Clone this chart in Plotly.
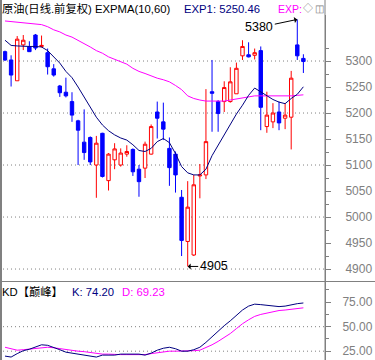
import plotly.graph_objects as go

# ---- data ----
opens  = [5318, 5302, 5262, 5331, 5327, 5350, 5328, 5316, 5285, 5252,
          5240, 5222, 5185, 5144, 5153, 5100, 5161, 5070, 5110, 5100,
          5121, 5130, 5092, 5094, 5121, 5202, 5183, 5132, 5121, 5038,
          4953, 4927, 5079, 5081, 5241, 5222, 5222, 5222, 5237, 5310,
          5312, 5311, 5320, 5174, 5183, 5202, 5190, 5192, 5331, 5305]
highs  = [5320, 5311, 5348, 5350, 5338, 5352, 5349, 5324, 5294, 5254,
          5268, 5240, 5187, 5207, 5155, 5156, 5162, 5123, 5142, 5132,
          5138, 5132, 5100, 5145, 5178, 5222, 5220, 5153, 5126, 5052,
          5069, 5081, 5102, 5246, 5302, 5225, 5261, 5288, 5297, 5340,
          5336, 5324, 5328, 5241, 5219, 5222, 5219, 5281, 5380, 5313]
lows   = [5300, 5251, 5262, 5321, 5318, 5321, 5326, 5274, 5270, 5231,
          5230, 5183, 5100, 5110, 5100, 5037, 5076, 5051, 5092, 5097,
          5116, 5079, 5039, 5075, 5120, 5151, 5148, 5060, 5047, 4925,
          4905, 4925, 5036, 5073, 5164, 5164, 5202, 5220, 5237, 5302,
          5307, 5303, 5167, 5162, 5171, 5167, 5169, 5130, 5302, 5277]
closes = [5302, 5273, 5342, 5340, 5318, 5325, 5330, 5289, 5273, 5239,
          5233, 5196, 5167, 5124, 5106, 5142, 5078, 5121, 5131, 5123,
          5126, 5087, 5068, 5140, 5174, 5190, 5169, 5095, 5081, 4955,
          5019, 5062, 5081, 5145, 5238, 5199, 5249, 5260, 5286, 5328,
          5308, 5316, 5211, 5196, 5200, 5181, 5196, 5267, 5310, 5299]

exp1 = [5340, 5330, 5329, 5328, 5328, 5328, 5327, 5320, 5308, 5296,
        5280, 5268, 5250, 5230, 5210, 5192, 5177, 5166, 5158, 5152,
        5148, 5139, 5128, 5126, 5132, 5145, 5151, 5143, 5122, 5097,
        5085, 5081, 5081, 5092, 5118, 5138, 5157, 5176, 5198, 5215,
        5234, 5248, 5241, 5233, 5226, 5221, 5218, 5228, 5236, 5250.46]
exp2 = [5377, 5376, 5375, 5374, 5373, 5372, 5370, 5366, 5360, 5356,
        5350, 5346, 5340, 5333, 5327, 5320, 5315, 5308, 5303, 5298,
        5294, 5286, 5280, 5276, 5271, 5267, 5264, 5260, 5253, 5245,
        5233, 5228, 5225, 5223, 5223, 5223, 5223, 5225, 5227, 5229,
        5231, 5233, 5233, 5233, 5232, 5232, 5232, 5233, 5234, 5235]

k_vals = [20, 19, 22.5, 25.5, 27, 29, 31.5, 31, 29, 26.5,
          24, 23, 22, 21, 19.5, 19, 21, 21, 21, 22,
          22, 22, 22, 21, 23, 26, 28, 29, 27.5, 25,
          25, 26.5, 29, 34, 40, 45, 51, 56, 62, 67,
          71, 73, 72.5, 72, 71, 70.5, 71, 72.5, 73.5, 74.2]
d_vals = [29, 27.5, 26, 26.5, 27, 27.5, 28.5, 29, 28.5, 27.5,
          27, 26, 25, 24.5, 23.5, 23, 22, 22, 21.5, 21.5,
          21.5, 21.5, 21.5, 21.5, 22.5, 23.5, 24, 25, 25, 25,
          25, 25.5, 26, 28.5, 31.5, 35, 39, 43, 48, 53,
          57, 60.5, 62.5, 64, 65.5, 66.5, 67, 68, 68.5, 69.23]

price_ticks = [4900, 4950, 5000, 5050, 5100, 5150, 5200, 5250, 5300]
price_minor = [4925, 4975, 5025, 5075, 5125, 5175, 5225, 5275, 5325]
price_grid = [4900, 5000, 5100, 5200, 5300]
kd_ticks = [25, 50, 75]
kd_ticktext = ["25.00", "50.00", "75.00"]
kd_minor = [37.5, 62.5, 87.5]
kd_grid = [25, 50]

high_label = "5380"
low_label = "4905"
high_idx = highs.index(max(highs))
low_idx = lows.index(min(lows))

x = list(range(len(opens)))

# ---- styles ----
RED = "#FF0000"
BLUE = "#0000FF"
NAVY = "#000080"
MAG = "#FF00FF"
GRAY = "#808080"
W, H = 375, 360
ML, MR = 3, 50
PW = W - ML - MR
FONT = "Liberation Sans, Noto Sans CJK SC, sans-serif"


def px_x(p):
    return (p - ML) / PW


def px_y(p):
    return 1 - p / H


fig = go.Figure()
fig.add_trace(go.Candlestick(
    x=x, open=opens, high=highs, low=lows, close=closes,
    increasing=dict(line=dict(color=RED, width=1), fillcolor="#FFFFFF"),
    decreasing=dict(line=dict(color=BLUE, width=1), fillcolor=BLUE),
    whiskerwidth=0, hoverinfo="skip", xaxis="x", yaxis="y", showlegend=False))
fig.add_trace(go.Scatter(x=x, y=exp2, mode="lines", line=dict(color=MAG, width=1),
                         xaxis="x", yaxis="y", showlegend=False, hoverinfo="skip"))
fig.add_trace(go.Scatter(x=x, y=exp1, mode="lines", line=dict(color=NAVY, width=1),
                         xaxis="x", yaxis="y", showlegend=False, hoverinfo="skip"))
fig.add_trace(go.Scatter(x=x, y=d_vals, mode="lines", line=dict(color=MAG, width=1),
                         xaxis="x2", yaxis="y2", showlegend=False, hoverinfo="skip"))
fig.add_trace(go.Scatter(x=x, y=k_vals, mode="lines", line=dict(color=NAVY, width=1),
                         xaxis="x2", yaxis="y2", showlegend=False, hoverinfo="skip"))

xrange = [-0.33, 52.55]
main_dom = [px_y(281), px_y(15)]
kd_dom = [0, px_y(282)]
main_range = [4877, 5388.5]
kd_range = [16, 95.6]

tickfont = dict(family=FONT, size=12, color=GRAY)

fig.update_layout(
    width=W, height=H, margin=dict(l=ML, r=MR, t=0, b=0),
    paper_bgcolor="white", plot_bgcolor="white", showlegend=False,
    boxgap=0.2,
    xaxis=dict(domain=[0, 1], range=xrange, anchor="y", showticklabels=False,
               showgrid=False, zeroline=False, ticks="", showline=False,
               rangeslider=dict(visible=False), fixedrange=True),
    xaxis2=dict(domain=[0, 1], range=xrange, anchor="y2", showticklabels=False,
                showgrid=False, zeroline=False, ticks="", showline=False),
    yaxis=dict(domain=main_dom, range=main_range, side="right", anchor="x",
               tickvals=price_ticks, ticks="outside", ticklen=5, tickcolor=GRAY,
               tickfont=tickfont, showgrid=False, zeroline=False,
               showline=True, linecolor=GRAY, ticklabelstandoff=12,
               minor=dict(tickvals=price_minor, ticks="outside", ticklen=3,
                          tickcolor=GRAY, showgrid=False)),
    yaxis2=dict(domain=kd_dom, range=kd_range, side="right", anchor="x2",
                tickvals=kd_ticks, ticktext=kd_ticktext, ticks="outside", ticklen=5,
                tickcolor=GRAY, tickfont=tickfont, showgrid=False, zeroline=False,
                showline=True, linecolor=GRAY, ticklabelstandoff=9,
                minor=dict(tickvals=kd_minor, ticks="outside", ticklen=3,
                           tickcolor=GRAY, showgrid=False)),
)

dot = "1px,3px"
for v in price_grid:
    fig.add_shape(type="line", xref="x domain", yref="y", x0=0, x1=1, y0=v, y1=v,
                  line=dict(color=GRAY, width=1, dash=dot), layer="below")
for v in kd_grid:
    fig.add_shape(type="line", xref="x2 domain", yref="y2", x0=0, x1=1, y0=v, y1=v,
                  line=dict(color=GRAY, width=1, dash=dot), layer="below")

# frame lines
fig.add_shape(type="line", xref="paper", yref="paper", x0=px_x(325), x1=px_x(325),
              y0=0, y1=1, line=dict(color=GRAY, width=1))
fig.add_shape(type="line", xref="paper", yref="paper", x0=px_x(1), x1=px_x(1),
              y0=0, y1=1, line=dict(color=GRAY, width=2))
fig.add_shape(type="line", xref="paper", yref="paper", x0=px_x(0), x1=px_x(W),
              y0=px_y(281.5), y1=px_y(281.5), line=dict(color=GRAY, width=1))

tf = 11.3


def label(txt, px, py, color="black", size=tf):
    fig.add_annotation(text=txt, xref="paper", yref="paper", x=px_x(px), y=px_y(py),
                       xanchor="left", yanchor="middle", showarrow=False,
                       font=dict(family=FONT, size=size, color=color),
                       borderpad=0)


label("原油(日线.前复权) EXPMA(10,60)", 1, 8.5)
label("EXP1: 5250.46", 183, 8.5, NAVY)
label("EXP:", 277, 8.5, MAG, 10.5)
label("◇", 302, 8.5, GRAY, 10)
label("◫", 313.5, 8.5, GRAY, 10)

label("KD【巅峰】", 1, 291.5)
label("K: 74.20", 71, 291.5, NAVY)
label("D: 69.23", 121, 291.5, MAG)

fig.add_annotation(x=high_idx, y=max(highs), xref="x", yref="y", text=high_label,
                   showarrow=True, arrowhead=1, arrowwidth=1, arrowcolor="black",
                   ax=-38, ay=8, font=dict(family=FONT, size=12.5, color="black"))
fig.add_annotation(x=low_idx, y=min(lows), xref="x", yref="y", text=low_label,
                   showarrow=True, arrowhead=1, arrowwidth=1, arrowcolor="black",
                   ax=26, ay=0, font=dict(family=FONT, size=12.5, color="black"))

fig.write_html("out.html",
               config={"displayModeBar": False, "staticPlot": True},
               post_script="document.body.style.margin='0';"
                           "document.body.style.overflow='hidden';")
